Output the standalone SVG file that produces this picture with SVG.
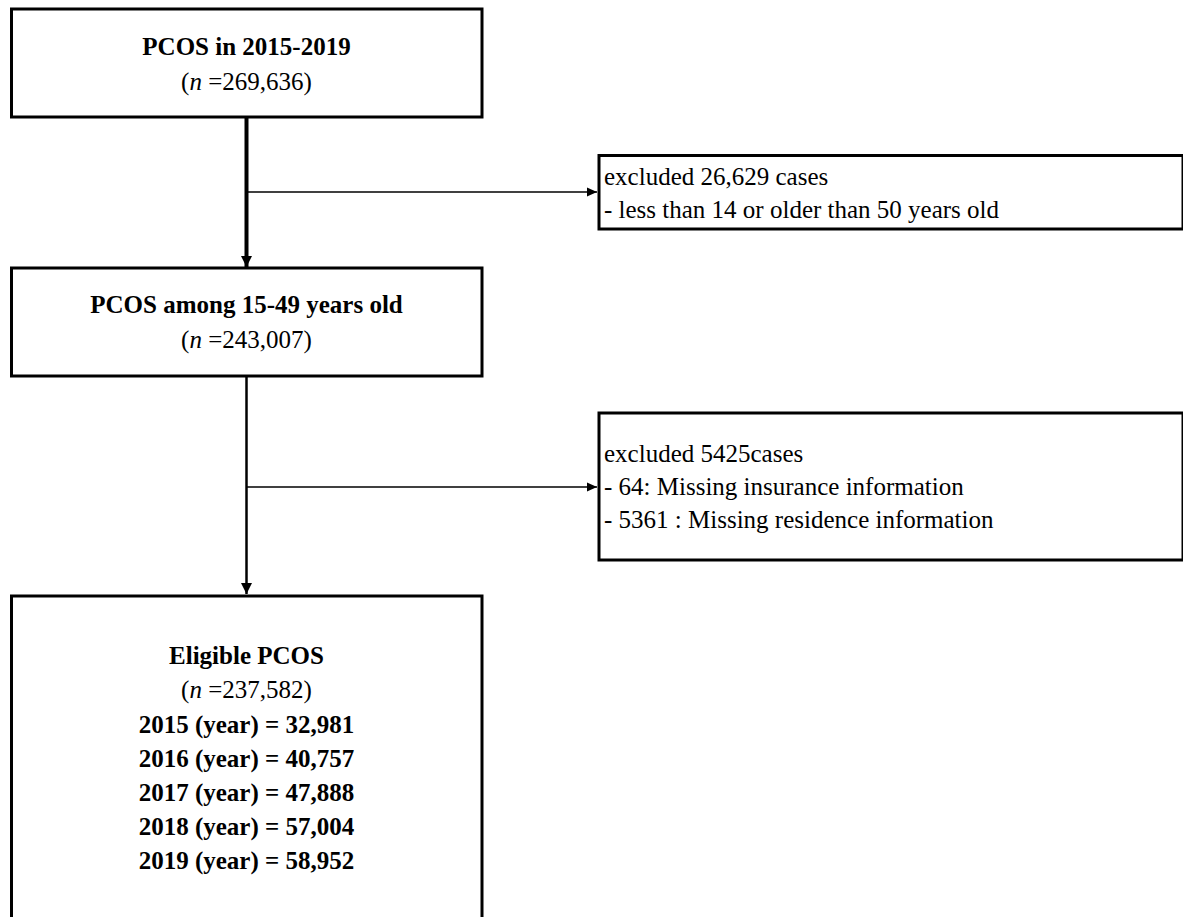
<svg xmlns="http://www.w3.org/2000/svg" width="1183" height="917" viewBox="0 0 1183 917">
<defs>
<style>
.box{fill:#fff;stroke:#000;stroke-width:3}
.t{font-family:"Liberation Serif","Times New Roman",serif;font-size:25px;fill:#000}
.b{font-weight:bold}
.c{text-anchor:middle}
.conn{fill:none;stroke:#000}
</style>
<marker id="ah" markerUnits="userSpaceOnUse" markerWidth="12" markerHeight="12" refX="11" refY="6" orient="auto" viewBox="0 0 12 12">
<path d="M0,0.5 L11,6 L0,11.5 Z" fill="#000"/>
</marker>
<marker id="ahs" markerUnits="userSpaceOnUse" markerWidth="10" markerHeight="10" refX="10" refY="5" orient="auto" viewBox="0 0 10 10">
<path d="M0,0.5 L10,5 L0,9.5 Z" fill="#000"/>
</marker>
</defs>
<rect width="1183" height="917" fill="#fff"/>
<g id="connectors">
<line class="conn" x1="246.5" y1="118" x2="246.5" y2="267" stroke-width="4" marker-end="url(#ah)"/>
<line class="conn" x1="248" y1="192" x2="597" y2="192" stroke-width="1.5" marker-end="url(#ahs)"/>
<line class="conn" x1="246.5" y1="377" x2="246.5" y2="594" stroke-width="2.5" marker-end="url(#ah)"/>
<line class="conn" x1="247" y1="487" x2="597" y2="487" stroke-width="1.5" marker-end="url(#ahs)"/>
</g>
<g id="node-pcos-2015-2019">
<rect class="box" x="11.5" y="9" width="470.5" height="108"/>
<text class="t b c" x="246.5" y="55">PCOS in 2015-2019</text>
<text class="t c" x="246.5" y="90">(<tspan font-style="italic">n</tspan> =269,636)</text>
</g>
<g id="node-excluded-1">
<rect class="box" x="599" y="155.5" width="584" height="73.5"/>
<text class="t" x="604" y="185">excluded 26,629 cases</text>
<text class="t" x="604" y="218">- less than 14 or older than 50 years old</text>
</g>
<g id="node-pcos-15-49">
<rect class="box" x="11.5" y="268" width="470.5" height="108"/>
<text class="t b c" x="246.5" y="313">PCOS among 15-49 years old</text>
<text class="t c" x="246.5" y="348">(<tspan font-style="italic">n</tspan> =243,007)</text>
</g>
<g id="node-excluded-2">
<rect class="box" x="599" y="413" width="584" height="147"/>
<text class="t" x="604" y="462">excluded 5425cases</text>
<text class="t" x="604" y="495">- 64: Missing insurance information</text>
<text class="t" x="604" y="528">- 5361 : Missing residence information</text>
</g>
<g id="node-eligible">
<rect class="box" x="11.5" y="596" width="470.5" height="340"/>
<text class="t b c" x="246.5" y="664">Eligible PCOS</text>
<text class="t c" x="246.5" y="698">(<tspan font-style="italic">n</tspan> =237,582)</text>
<text class="t b c" x="246.5" y="733">2015 (year) = 32,981</text>
<text class="t b c" x="246.5" y="767">2016 (year) = 40,757</text>
<text class="t b c" x="246.5" y="801">2017 (year) = 47,888</text>
<text class="t b c" x="246.5" y="835">2018 (year) = 57,004</text>
<text class="t b c" x="246.5" y="869">2019 (year) = 58,952</text>
</g>
</svg>
